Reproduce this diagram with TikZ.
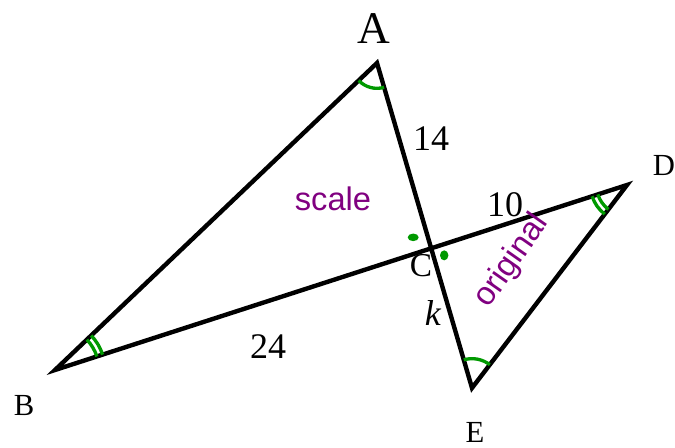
\documentclass[tikz,border=0pt]{standalone}
\usepackage{fontspec}
\setmainfont{Liberation Serif}
\setsansfont{Liberation Sans}
\usetikzlibrary{angles}
\definecolor{markgreen}{RGB}{0,153,0}
\definecolor{notepurple}{RGB}{128,0,128}

\begin{document}
\begin{tikzpicture}[
  x=0.75pt, y=-0.75pt,
  side/.style={line width=3.3pt, line join=miter},
  anglemark/.style={draw=markgreen, line width=2.5pt},
  vtx/.style={inner sep=0pt, font=\fontsize{23}{27}\selectfont},
  len/.style={inner sep=0pt, font=\fontsize{27}{32}\selectfont},
  note/.style={inner sep=0pt, text=notepurple, font=\sffamily\fontsize{24.5}{29}\selectfont}
]
\useasboundingbox (0,0) rectangle (675,448);
\coordinate (A) at (377,63);
\coordinate (B) at (55,370);
\coordinate (D) at (627,185);
\coordinate (E) at (472,388);
\coordinate (C) at (intersection of A--E and B--D);

% the two triangles
\draw[side] (B) -- (A) -- (E) -- (D) -- cycle;

% equal angles
\pic[anglemark, angle radius=19pt] {angle=B--A--C};
\pic[anglemark, angle radius=22pt] {angle=D--E--C};
\pic[anglemark, angle radius=33pt] {angle=D--B--A};
\pic[anglemark, angle radius=37.5pt] {angle=D--B--A};
\pic[anglemark, angle radius=23pt] {angle=B--D--E};
\pic[anglemark, angle radius=27.5pt] {angle=B--D--E};
\fill[markgreen] (C) ++(-18,-11) ellipse (5.5 and 3.8);
\fill[markgreen] (C) ++(13,7) ellipse (4.2 and 5);

% vertices
\node[vtx, font=\fontsize{34}{40}\selectfont] (labA) at (374,29) {A};
\node[vtx] (labB) at (24,406) {B};
\node[vtx, font=\fontsize{25}{30}\selectfont] (labC) at (421,266) {C};
\node[vtx] (labD) at (664,165) {D};
\node[vtx] (labE) at (475,432) {E};

% lengths
\node[len] (labCA) at (431,139) {14};
\node[len] (labCD) at (505,205) {10};
\node[len] (labCB) at (268,347) {24};
\node[len] (labCE) at (433,313) {\textit{k}};

\node[note] (scale) at (333,199) {scale};
\node[note, rotate=55] (orig) at (512,261) {original};
\end{tikzpicture}
\end{document}
